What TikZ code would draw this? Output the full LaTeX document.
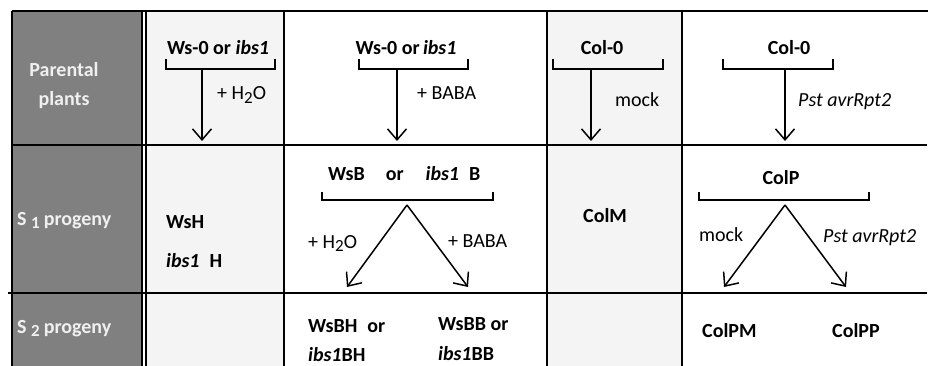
\documentclass[tikz,border=0pt]{standalone}
\usepackage{fontspec}
\setmainfont{Carlito}
\usepackage{tikz}
\usetikzlibrary{arrows.meta}
\definecolor{headgray}{RGB}{128,128,128}
\definecolor{palegray}{RGB}{244,244,244}
\newcommand{\lowsub}[1]{\raisebox{-3.5pt}{\fontsize{17}{17}\selectfont #1}}

\begin{document}
\begin{tikzpicture}[x=1pt,y=-1pt]
      \useasboundingbox (0,0) rectangle (928,366);
      % shaded columns
      \fill[headgray] (12,11) rectangle (142,366);
      \fill[palegray] (146,11) rectangle (284,366);
      \fill[palegray] (547,11) rectangle (682,366);
      % grid
      \begin{scope}[line width=1.6pt]
        \draw (12,11) -- (928,11);
        \draw (12,145) -- (927,145);
        \draw (8,293) -- (927,293);
        \foreach \x in {12,142,146,284,547,682} \draw (\x,11) -- (\x,366);
      \end{scope}
      % row heads
      \begin{scope}[every node/.style={inner sep=0pt,text=white!94!black,font=\fontsize{20}{24}\selectfont\bfseries}]
        \node[anchor=base] (par1) at (64,77)  {Parental};
        \node[anchor=base] (par2) at (64,106) {plants};
        \node[anchor=base west] (sone) at (17,225) {S \lowsub{1}\hspace{4pt}progeny};
        \node[anchor=base west] (stwo) at (17,333) {S \lowsub{2}\hspace{4pt}progeny};
      \end{scope}
      % lines names
      \begin{scope}[every node/.style={inner sep=0pt,font=\fontsize{20}{24}\selectfont\bfseries}]
        \node[anchor=base] (wsA) at (218,55) {Ws-0 or \textit{ibs1}};
        \node[anchor=base] (wsB) at (406,55) {Ws-0 or\,\textit{ibs1}};
        \node[anchor=base] (colA) at (602,55) {Col-0};
        \node[anchor=base] (colB) at (789,55) {Col-0};
        \node[anchor=base west] (wsh) at (166,228) {WsH};
        \node[anchor=base west] (ibsh) at (166,267) {\textit{ibs1}\hspace{10pt}H};
        \node[anchor=base west] (wsb) at (328,181) {WsB\hspace{21pt}or\hspace{22pt}\textit{ibs1}\hspace{10pt}B};
        \node[anchor=base west] (colm) at (583,222) {ColM};
        \node[anchor=base] (colp) at (781,185) {ColP};
        \node[anchor=base west] (wsbh) at (308,332) {WsBH\hspace{10pt}or};
        \node[anchor=base west,text depth=0pt] (ibsbh) at (308,361) {\textit{ibs1}BH};
        \node[anchor=base west] (wsbb) at (438,330) {WsBB or};
        \node[anchor=base west,text depth=0pt] (ibsbb) at (438,360) {\textit{ibs1}BB};
        \node[anchor=base west] (colpm) at (702,337) {ColPM};
        \node[anchor=base west] (colpp) at (832,337) {ColPP};
      \end{scope}
      % treatments
      \begin{scope}[every node/.style={inner sep=0pt,anchor=base west,font=\fontsize{20}{24}\selectfont}]
        \node (waterA) at (217,100) {+ H\lowsub{2}O};
        \node (babaA)  at (417,100) {+ BABA};
        \node (mockA)  at (615,107) {mock};
        \node (pstA)   at (798,107) {\textit{Pst avrRpt2}};
        \node (waterB) at (308,248) {+ H\lowsub{2}O};
        \node (babaB)  at (448,247) {+ BABA};
        \node (mockB)  at (699,241) {mock};
        \node (pstB)   at (823,242) {\textit{Pst avrRpt2}};
      \end{scope}
      % brackets
      \begin{scope}[line width=1.4pt]
        \draw (166,59) -- (166,69) -- (275,69) -- (275,59);
        \draw (359,59) -- (359,69) -- (468,69) -- (468,59);
        \draw (553,59) -- (553,69) -- (663,69) -- (663,59);
        \draw (723,59) -- (723,69) -- (833,69) -- (833,59);
        \draw (322,192) -- (322,200) -- (493,200) -- (493,192);
        \draw (699,192) -- (699,200) -- (869,200) -- (869,192);
      \end{scope}
      \coordinate (topA) at (202,69);  \coordinate (endA) at (202,141);
      \coordinate (topB) at (397,69);  \coordinate (endB) at (397,141);
      \coordinate (topC) at (591,69);  \coordinate (endC) at (591,141);
      \coordinate (topD) at (785,69);  \coordinate (endD) at (785,141);
      \coordinate (apexB) at (407,205);
      \coordinate (leftB) at (347,287); \coordinate (rightB) at (468,287);
      \coordinate (apexD) at (785,205);
      \coordinate (leftD) at (724,287); \coordinate (rightD) at (846,287);
      \begin{scope}[>={Straight Barb[length=11pt,width=19pt]},every edge/.style={draw=black,line width=1.5pt,->}]
        \path (topA) edge (endA);      \path (topB) edge (endB);
        \path (topC) edge (endC);      \path (topD) edge (endD);
        \path (apexB) edge (leftB);    \path (apexB) edge (rightB);
        \path (apexD) edge (leftD);    \path (apexD) edge (rightD);
      \end{scope}
\end{tikzpicture}
\end{document}
